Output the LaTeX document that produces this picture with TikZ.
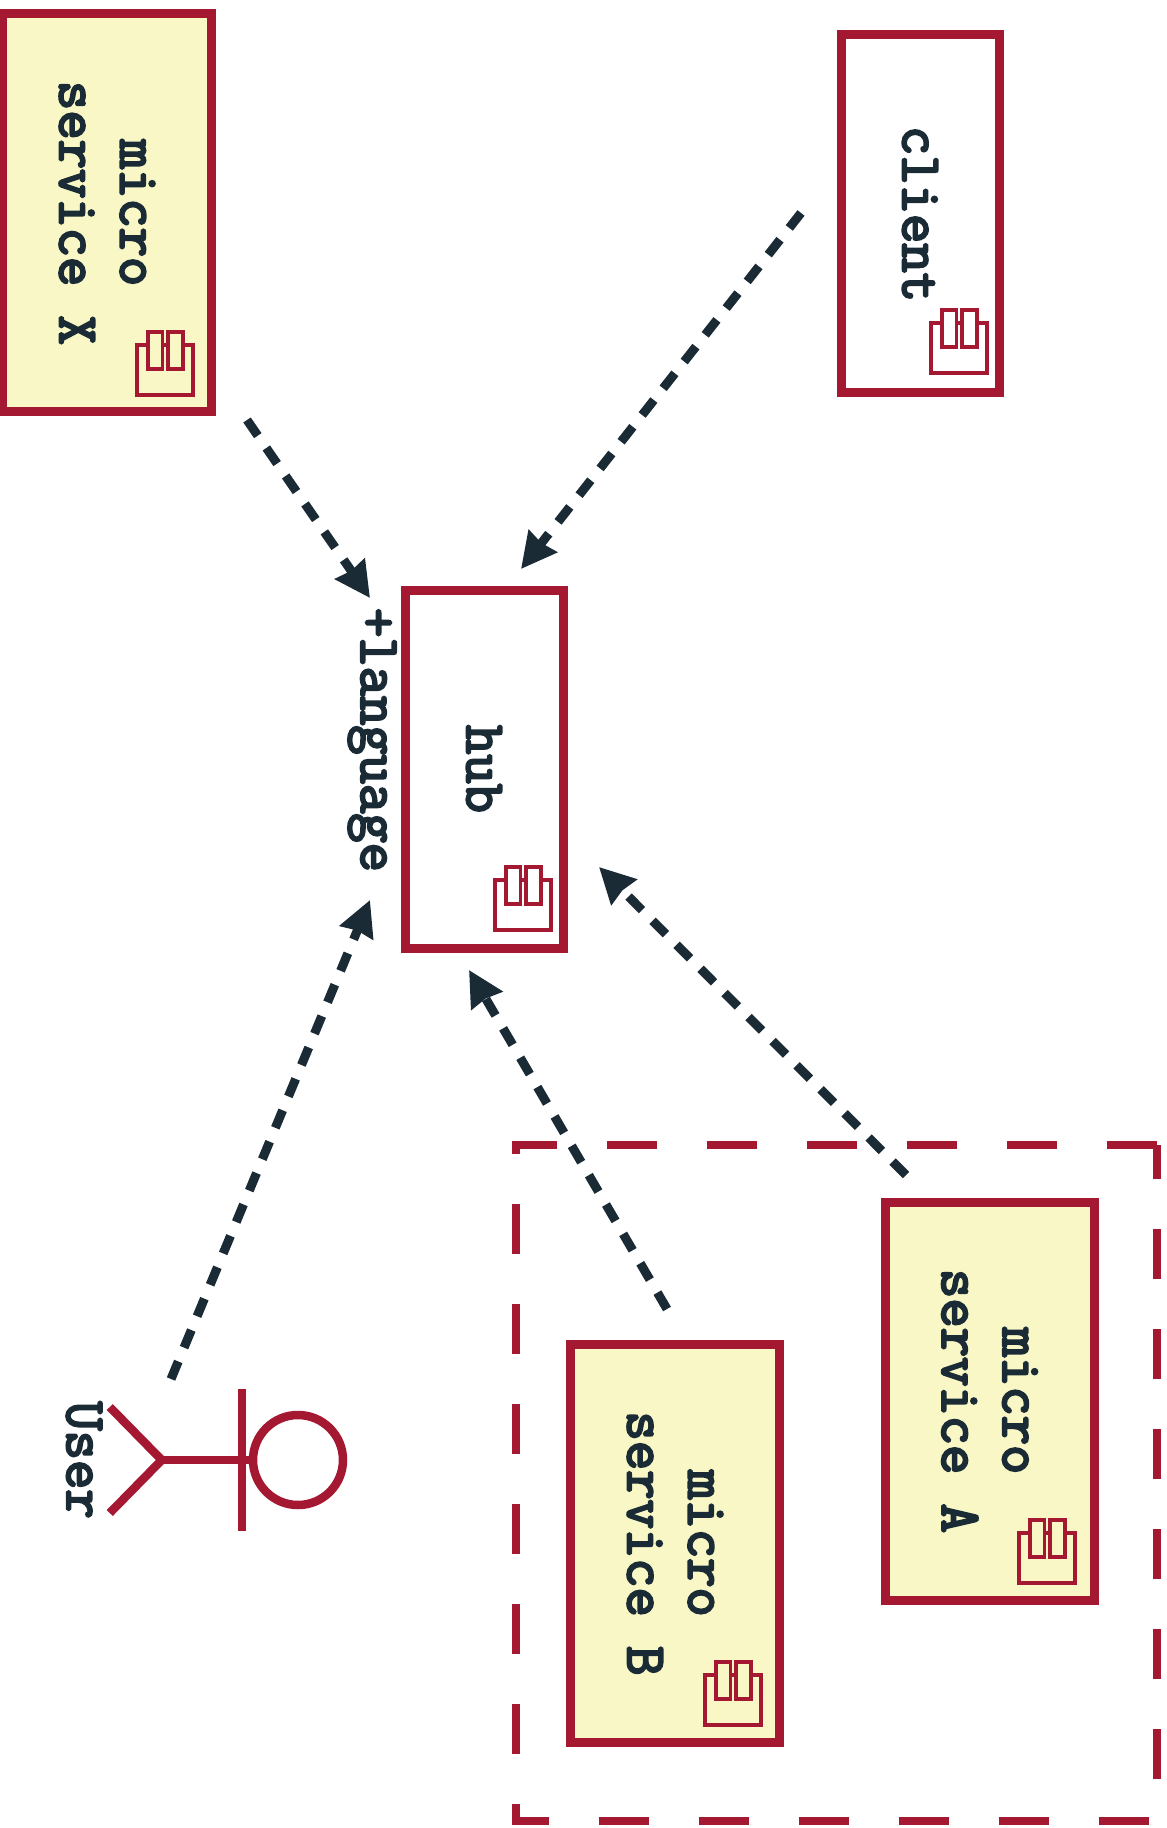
\documentclass[tikz,border=0pt]{standalone}
\usepackage{fontspec}
\newfontfamily\umlfont{Latin Modern Mono}[FakeBold=4]
\usetikzlibrary{calc}
\usetikzlibrary{arrows.meta}
\definecolor{umlred}{HTML}{A51832}
\definecolor{umlink}{HTML}{1A2B36}
\definecolor{umlyellow}{HTML}{F8F7C5}
\tikzset{
  comp/.style={
    draw=umlred, line width=.09cm, rotate=-90, align=center, inner sep=0pt,
    text=umlink, font=\fontsize{16.2}{17.3}\selectfont\umlfont,
    minimum width=3.58cm, minimum height=1.58cm
  },
  svc/.style={comp, fill=umlyellow, minimum width=3.98cm, minimum height=2.09cm},
  txt/.style={rotate=-90, inner sep=0pt, text=umlink, font=\fontsize{16.2}{17.3}\selectfont\umlfont},
  flow/.style={umlink, line width=.09cm, dash pattern=on .19cm off .15cm, -{Stealth[length=.35cm,width=.35cm,inset=.02cm]}},
  limb/.style={umlred, line width=.085cm}
}
\tikzset{
  pics/compicon/.style={
    code={
      \draw[umlred, line width=.035cm] (0,0) rectangle (-.56,.5);
      \draw[umlred, line width=.035cm, fill=#1] (-.452,.26) rectangle (-.303,.63);
      \draw[umlred, line width=.035cm, fill=#1] (-.248,.26) rectangle (-.1,.63);
    }
  }
}

\begin{document}
\begin{tikzpicture}
\useasboundingbox (0,0) rectangle (11.67,-18.28);

% group
\draw[umlred, line width=.085cm, dash pattern=on .5cm off .5cm]
  (11.57,-11.45) -- (5.16,-11.45) -- (5.16,-18.21) -- (11.57,-18.21) -- cycle;

% components
\node[svc] (svcx) at (1.07,-2.13) {micro\\service X};
\node[comp] (client) at (9.2,-2.14) {client};
\node[comp] (hub) at (4.84,-7.69) {hub};
\node[svc] (svca) at (9.895,-14.01) {micro\\service A};
\node[svc] (svcb) at (6.75,-15.435) {micro\\service B};

% icons
\pic at (1.93,-3.95) {compicon=umlyellow};
\pic at (9.87,-3.73) {compicon=white};
\pic at (5.51,-9.3) {compicon=white};
\pic at (10.75,-15.83) {compicon=umlyellow};
\pic at (7.61,-17.25) {compicon=umlyellow};

% actor
\node[circle, draw=umlred, line width=.085cm, minimum size=.9cm, inner sep=0pt] (user) at (2.98,-14.6) {};
\draw[limb] (user.west) -- ++(-.87,0) coordinate (hip);
\draw[limb] (2.42,-13.89) -- (2.42,-15.31);
\draw[limb] ($(hip)+(-.52,.53)$) -- (hip) -- ($(hip)+(-.52,-.53)$);
\node[txt] (userlabel) at (.84,-14.6) {User};
\node[txt] (langlabel) at (3.72,-7.4) {+language};

% connectors
\draw[flow] ($(svcx)+(1.4,-2.07)$) -- ($(hub)+(-1.14,1.71)$);
\draw[flow] ($(client)+(-1.19,.01)$) -- ($(hub)+(.37,2)$);
\draw[flow] ($(user)+(-1.27,.81)$) -- ($(hub)+(-1.14,-1.31)$);
\draw[flow] ($(svcb)+(-.08,2.345)$) -- ($(hub)+(-.15,-2.01)$);
\draw[flow] ($(svca)+(-.835,2.26)$) -- ($(hub)+(1.15,-.98)$);

\end{tikzpicture}
\end{document}
